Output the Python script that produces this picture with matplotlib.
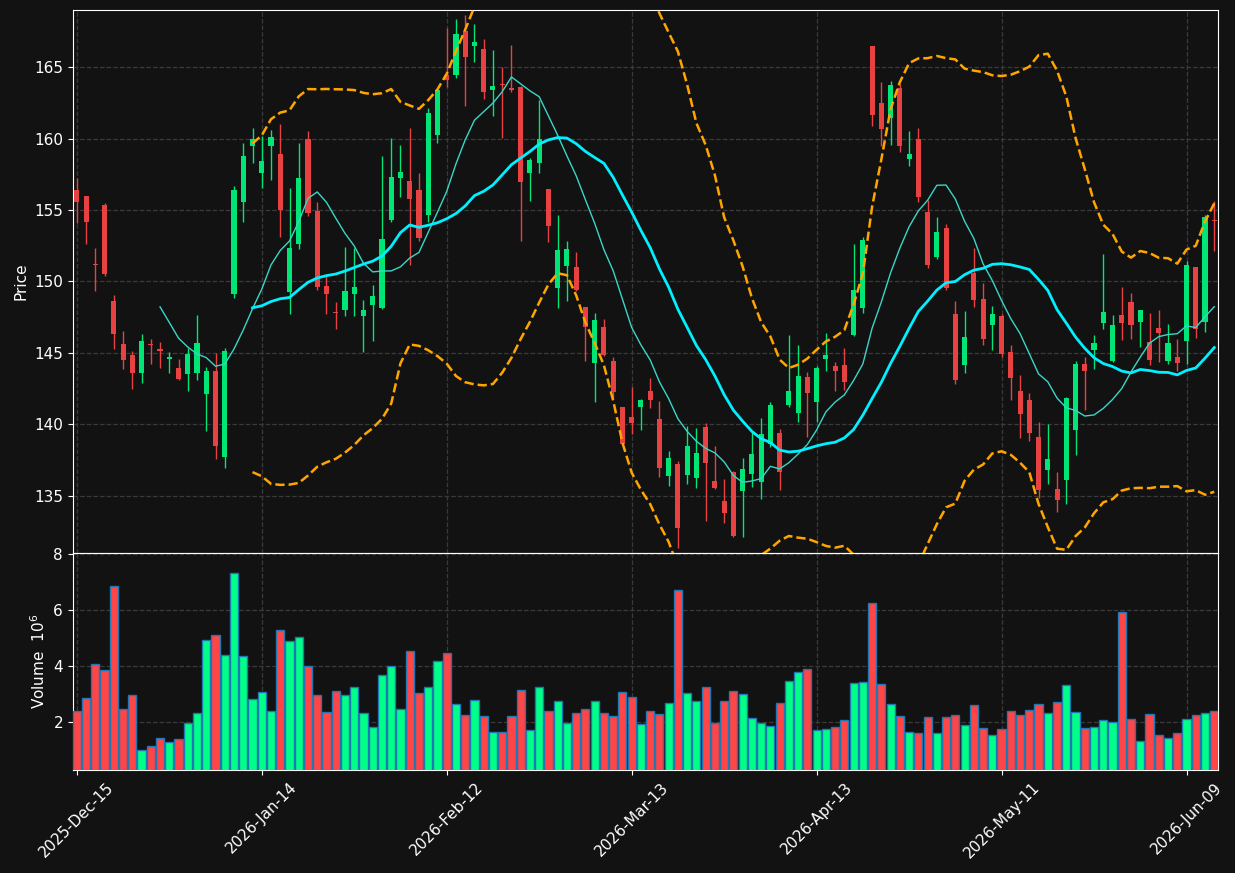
import numpy as np
import pandas as pd
import matplotlib
matplotlib.use("Agg")
import matplotlib.pyplot as plt

# trading calendar (US market holidays removed)
holidays = ['2025-12-25', '2026-01-01', '2026-01-19', '2026-02-16', '2026-04-03', '2026-05-25']
dates = pd.bdate_range('2025-12-15', periods=124, freq='C', holidays=holidays)

opens = [
    156.40, 155.98, 151.15, 155.34, 148.64, 145.61, 144.85, 143.60, 145.54, 145.30,
    144.58, 143.94, 143.53, 143.60, 142.12, 143.72, 137.73, 149.13, 155.59, 159.50,
    157.60, 159.45, 158.93, 149.27, 152.64, 159.96, 154.93, 149.67, 147.77, 148.02,
    149.13, 147.60, 148.37, 148.17, 154.31, 157.26, 157.04, 156.40, 154.68, 160.28,
    164.46, 164.48, 167.53, 166.45, 166.28, 163.43, 163.80, 163.55, 163.62, 157.56,
    158.32, 156.47, 149.57, 151.09, 150.99, 148.19, 144.31, 146.79, 144.41, 141.19,
    140.50, 141.22, 142.32, 140.36, 136.40, 137.21, 136.45, 136.25, 139.79, 136.01,
    134.61, 136.65, 135.34, 136.50, 135.98, 138.66, 139.37, 141.34, 140.77, 143.30,
    141.58, 144.58, 144.07, 144.14, 146.25, 148.17, 166.50, 162.49, 161.46, 163.55,
    158.56, 159.96, 154.88, 151.73, 153.75, 147.70, 144.17, 150.58, 148.76, 146.97,
    147.58, 145.05, 142.37, 141.68, 139.10, 136.82, 135.47, 136.11, 139.62, 144.21,
    145.22, 147.11, 144.43, 147.65, 148.56, 147.19, 145.79, 146.77, 144.43, 144.75,
    145.84, 150.99, 147.19, 154.22]

highs = [
    157.26, 156.00, 152.37, 155.49, 149.03, 146.52, 145.12, 146.35, 145.96, 145.74,
    145.10, 144.61, 145.34, 147.68, 144.02, 145.00, 145.34, 156.70, 159.67, 160.77,
    160.16, 160.58, 161.02, 156.52, 159.69, 160.50, 155.54, 150.36, 148.54, 152.44,
    152.32, 148.73, 149.77, 158.76, 160.01, 159.52, 160.77, 157.58, 162.13, 163.45,
    167.73, 168.34, 168.64, 168.05, 166.94, 166.18, 165.02, 166.55, 163.65, 158.64,
    162.69, 156.50, 154.63, 152.81, 152.03, 148.20, 147.83, 147.41, 144.75, 141.20,
    142.59, 141.76, 143.23, 141.61, 138.17, 137.41, 139.91, 139.72, 140.11, 138.51,
    136.15, 136.72, 137.63, 139.55, 140.43, 141.54, 139.67, 146.28, 145.54, 143.70,
    144.07, 146.43, 144.39, 145.32, 152.59, 153.11, 166.50, 163.97, 164.02, 163.80,
    160.50, 160.72, 155.71, 154.48, 153.99, 148.64, 147.92, 152.37, 149.86, 148.32,
    147.70, 145.54, 143.43, 142.22, 140.14, 140.01, 136.65, 141.90, 144.41, 144.75,
    146.28, 151.93, 147.68, 149.62, 149.18, 148.04, 147.83, 148.00, 147.06, 145.98,
    151.44, 151.00, 154.66, 155.61]

lows = [
    154.09, 152.59, 149.30, 150.36, 145.25, 143.89, 142.49, 142.91, 144.24, 143.97,
    143.60, 143.10, 142.37, 143.11, 139.57, 137.60, 136.92, 148.88, 154.14, 158.27,
    156.55, 157.11, 153.08, 147.73, 152.30, 154.61, 149.37, 147.73, 146.65, 147.56,
    147.56, 145.10, 145.81, 148.10, 154.19, 155.93, 151.12, 152.86, 154.14, 159.67,
    163.62, 164.21, 162.27, 165.34, 162.76, 161.56, 160.01, 163.23, 152.86, 155.66,
    157.60, 152.74, 148.12, 148.61, 149.35, 144.41, 141.54, 144.80, 141.76, 138.60,
    139.35, 139.59, 141.14, 136.35, 135.71, 131.36, 135.86, 135.52, 133.21, 135.50,
    133.13, 132.10, 132.10, 135.61, 134.80, 138.41, 135.44, 141.20, 140.18, 139.13,
    140.14, 143.77, 142.37, 142.42, 146.20, 147.80, 160.85, 159.50, 159.55, 159.08,
    158.05, 155.54, 150.97, 151.56, 149.37, 142.86, 143.62, 148.24, 145.59, 145.20,
    144.75, 141.73, 139.05, 138.81, 134.88, 135.86, 133.89, 134.41, 137.83, 141.02,
    143.85, 146.70, 144.40, 145.93, 145.98, 145.39, 144.19, 144.36, 144.26, 143.72,
    144.21, 146.06, 146.47, 152.15]

closes = [
    155.59, 154.19, 151.08, 150.55, 146.30, 144.51, 143.60, 145.81, 145.49, 145.12,
    144.71, 143.16, 144.90, 145.69, 143.72, 138.49, 145.12, 156.40, 158.78, 159.96,
    158.44, 160.11, 155.02, 152.32, 157.24, 154.80, 149.62, 149.13, 147.72, 149.32,
    149.59, 147.99, 148.98, 152.96, 157.31, 157.65, 155.79, 153.06, 161.81, 163.40,
    164.07, 167.33, 165.74, 166.74, 163.28, 163.67, 163.72, 163.40, 156.99, 158.51,
    159.96, 153.89, 152.20, 152.27, 149.42, 146.82, 147.29, 144.88, 142.30, 138.64,
    140.11, 141.71, 141.71, 136.92, 137.63, 132.74, 138.46, 137.97, 137.31, 135.52,
    133.80, 132.17, 136.87, 137.90, 139.30, 141.34, 136.65, 142.32, 143.38, 142.20,
    143.94, 144.83, 143.75, 142.94, 149.40, 152.89, 161.68, 160.70, 163.75, 159.45,
    158.93, 155.93, 151.17, 153.45, 149.57, 143.11, 146.11, 148.71, 145.98, 147.70,
    144.93, 143.26, 140.72, 139.40, 135.42, 137.56, 134.73, 141.86, 144.21, 143.75,
    145.69, 147.85, 146.94, 147.11, 146.97, 147.99, 144.51, 146.40, 145.69, 144.31,
    151.14, 146.70, 154.51, 154.15]

# volume in millions
volume_m = [
    2.39, 2.86, 4.07, 3.86, 6.86, 2.46, 2.96, 1.00, 1.14, 1.43,
    1.29, 1.39, 1.96, 2.32, 4.93, 5.11, 4.39, 7.32, 4.36, 2.82,
    3.07, 2.39, 5.29, 4.89, 5.04, 4.00, 2.96, 2.36, 3.11, 2.96,
    3.25, 2.32, 1.82, 3.68, 4.00, 2.46, 4.54, 3.04, 3.25, 4.18,
    4.46, 2.64, 2.25, 2.79, 2.21, 1.64, 1.64, 2.21, 3.14, 1.71,
    3.25, 2.39, 2.75, 1.96, 2.32, 2.46, 2.75, 2.32, 2.21, 3.07,
    2.89, 1.93, 2.39, 2.29, 2.68, 6.71, 3.04, 2.75, 3.25, 1.96,
    2.75, 3.11, 3.00, 2.14, 1.96, 1.86, 2.68, 3.46, 3.79, 3.89,
    1.71, 1.75, 1.82, 2.07, 3.39, 3.43, 6.25, 3.36, 2.64, 2.21,
    1.64, 1.61, 2.18, 1.61, 2.18, 2.25, 1.89, 2.61, 1.79, 1.54,
    1.75, 2.39, 2.25, 2.43, 2.64, 2.32, 2.71, 3.32, 2.36, 1.79,
    1.82, 2.07, 2.00, 5.93, 2.11, 1.32, 2.29, 1.54, 1.43, 1.61,
    2.11, 2.25, 2.32, 2.39]

BG = '#121212'
UP_C = '#00e676'
DN_C = '#e84141'
UP_V = '#00ff88'
DN_V = '#ff4545'

o = np.array(opens); h = np.array(highs); l = np.array(lows); c = np.array(closes)
v = np.array(volume_m)
x = np.arange(len(c))
up = c >= o

cs = pd.Series(c)
ma10 = cs.rolling(10).mean()
ma20 = cs.rolling(20).mean()
sd20 = cs.rolling(20).std(ddof=0)
bb_up = ma20 + 2 * sd20
bb_lo = ma20 - 2 * sd20

plt.rcParams['font.family'] = 'DejaVu Sans'
fig = plt.figure(figsize=(12.35, 8.73), dpi=100, facecolor=BG)
ax = fig.add_axes([0.0589, 0.3666, 0.9276, 0.6219], facecolor=BG)
axv = fig.add_axes([0.0589, 0.118, 0.9276, 0.2486], facecolor=BG, sharex=ax)

# candles
ccol = np.where(up, UP_C, DN_C)
ax.vlines(x, l, h, colors=ccol, linewidth=1.0, zorder=2)
body = np.where(np.abs(c - o) < 0.08, 0.08, c - o)
ax.bar(x, body, bottom=o, width=0.55, color=ccol, linewidth=0, zorder=3)

ax.plot(x, ma10, color='#3ad6c8', linewidth=1.0, zorder=4)
ax.plot(x, ma20, color='#00f0ff', linewidth=2.0, zorder=4)
ax.plot(x, bb_up, color='orange', linestyle='--', linewidth=1.8, zorder=4)
ax.plot(x, bb_lo, color='orange', linestyle='--', linewidth=1.8, zorder=4)

ax.set_ylim(131.0, 169.0)
ax.set_xlim(-0.44, len(c) - 0.56)
ax.set_ylabel('Price', color='white', fontsize=11)

# volume
vcol = np.where(up, UP_V, DN_V)
axv.bar(x, v, width=0.88, color=vcol, edgecolor='#1f77b4', linewidth=1.0, zorder=3)
axv.set_ylim(0.3, 8.04)
axv.set_yticks([2, 4, 6, 8])
axv.set_ylabel('Volume  $10^6$', color='white', fontsize=11)

ticks = x[::20]
axv.set_xticks(ticks)
axv.set_xticklabels([d.strftime('%Y-%b-%d') for d in dates[ticks]], rotation=45)
plt.setp(ax.get_xticklabels(), visible=False)

for a in (ax, axv):
    a.grid(True, linestyle='--', color='#3a3a3a', linewidth=0.9, zorder=0)
    a.set_axisbelow(True)
    a.tick_params(colors='white', labelsize=11)
    for s in a.spines.values():
        s.set_color('white')

fig.savefig('out.png', dpi=100, facecolor=BG)
